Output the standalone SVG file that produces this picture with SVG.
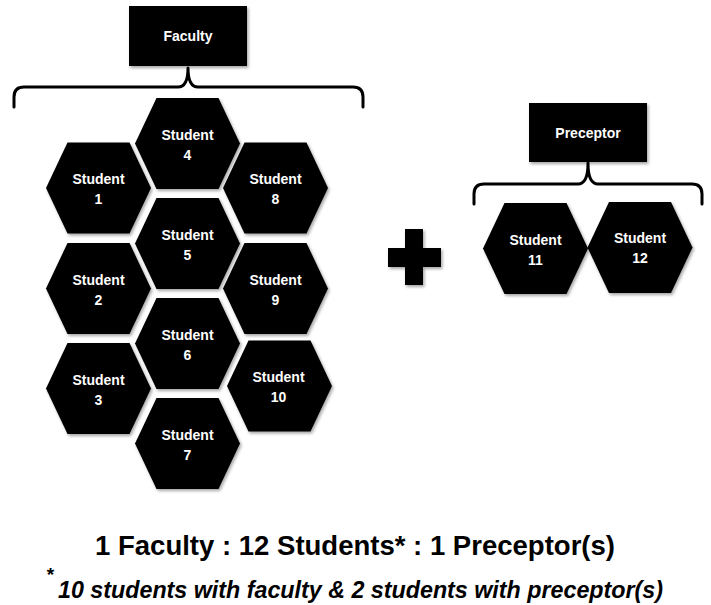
<svg xmlns="http://www.w3.org/2000/svg" xmlns:xlink="http://www.w3.org/1999/xlink" width="711" height="605" viewBox="0 0 711 605">
<style>
.sh{fill:#000;filter:url(#ds)}
.lbl{font-family:"Liberation Sans",Arial,sans-serif;font-weight:bold;font-size:14px;fill:#fff;text-anchor:middle}
.br{fill:none;stroke:#000;stroke-width:3;stroke-linejoin:round;stroke-linecap:round}
.cap{font-family:"Liberation Sans",Arial,sans-serif;font-weight:bold;fill:#000}
</style>
<defs>
<filter id="ds" x="-20%" y="-20%" width="150%" height="150%">
<feDropShadow dx="1.5" dy="2" stdDeviation="1.5" flood-color="#000" flood-opacity="0.35"/>
</filter>
<path id="hex" d="M-52.5,0 L-31,-45.5 L31,-45.5 L52.5,0 L31,45.5 L-31,45.5 Z"/>
</defs>
<rect width="711" height="605" fill="#fff"/>

<g id="connectors">
<path class="br" d="M14,107 L14,97 Q14,87 24,87 L178,87 Q188,87 188,68 Q188,87 198,87 L353,87 Q363,87 363,97 L363,107"/>
<path class="br" d="M474,204 L474,194 Q474,184 484,184 L578,184 Q588,184 588,163 Q588,184 598,184 L692,184 Q702,184 702,194 L702,204"/>
</g>

<g id="faculty">
<rect class="sh" x="129" y="6" width="118" height="60"/>
<text class="lbl" x="188" y="41">Faculty</text>
</g>

<g id="preceptor">
<rect class="sh" x="529" y="103" width="118" height="59"/>
<text class="lbl" x="588" y="138">Preceptor</text>
</g>

<g id="student4"><use xlink:href="#hex" href="#hex" class="sh" x="187.5" y="143.5"/><text class="lbl" x="187.5" y="139.5">Student</text><text class="lbl" x="187.5" y="159.5">4</text></g>
<g id="student1"><use xlink:href="#hex" href="#hex" class="sh" x="98.5" y="188"/><text class="lbl" x="98.5" y="184">Student</text><text class="lbl" x="98.5" y="204">1</text></g>
<g id="student8"><use xlink:href="#hex" href="#hex" class="sh" x="275.5" y="188"/><text class="lbl" x="275.5" y="184">Student</text><text class="lbl" x="275.5" y="204">8</text></g>
<g id="student5"><use xlink:href="#hex" href="#hex" class="sh" x="187.5" y="243.5"/><text class="lbl" x="187.5" y="239.5">Student</text><text class="lbl" x="187.5" y="259.5">5</text></g>
<g id="student2"><use xlink:href="#hex" href="#hex" class="sh" x="98.5" y="288.5"/><text class="lbl" x="98.5" y="284.5">Student</text><text class="lbl" x="98.5" y="304.5">2</text></g>
<g id="student9"><use xlink:href="#hex" href="#hex" class="sh" x="275.5" y="288.5"/><text class="lbl" x="275.5" y="284.5">Student</text><text class="lbl" x="275.5" y="304.5">9</text></g>
<g id="student6"><use xlink:href="#hex" href="#hex" class="sh" x="187.5" y="343.5"/><text class="lbl" x="187.5" y="339.5">Student</text><text class="lbl" x="187.5" y="359.5">6</text></g>
<g id="student3"><use xlink:href="#hex" href="#hex" class="sh" x="98.5" y="388.5"/><text class="lbl" x="98.5" y="384.5">Student</text><text class="lbl" x="98.5" y="404.5">3</text></g>
<g id="student10"><use xlink:href="#hex" href="#hex" class="sh" x="279.5" y="386"/><text class="lbl" x="278.5" y="382">Student</text><text class="lbl" x="278.5" y="402">10</text></g>
<g id="student7"><use xlink:href="#hex" href="#hex" class="sh" x="187.5" y="443.5"/><text class="lbl" x="187.5" y="439.5">Student</text><text class="lbl" x="187.5" y="459.5">7</text></g>
<g id="student11"><use xlink:href="#hex" href="#hex" class="sh" x="535.5" y="248.5"/><text class="lbl" x="535.5" y="244.5">Student</text><text class="lbl" x="535.5" y="264.5">11</text></g>
<g id="student12"><use xlink:href="#hex" href="#hex" class="sh" x="640" y="247.5"/><text class="lbl" x="640" y="243">Student</text><text class="lbl" x="640" y="263">12</text></g>

<g id="plus">
<path class="sh" d="M405,229 H423 V248 H441 V267 H423 V285 H405 V267 H388 V248 H405 Z"/>
</g>

<g id="caption">
<text class="cap" x="95" y="555" font-size="27.5" textLength="520" lengthAdjust="spacingAndGlyphs">1 Faculty : 12 Students* : 1 Preceptor(s)</text>
<text class="cap" x="46" y="581" font-size="19" font-style="italic">*</text>
<text class="cap" x="58" y="598" font-size="23" font-style="italic" textLength="605" lengthAdjust="spacingAndGlyphs">10 students with faculty &amp; 2 students with preceptor(s)</text>
</g>
</svg>
